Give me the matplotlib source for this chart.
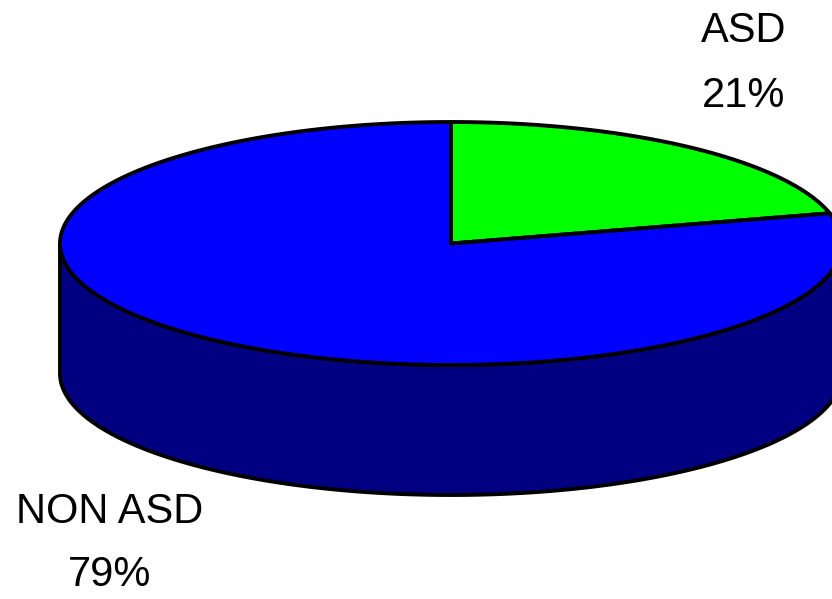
import numpy as np
import matplotlib
matplotlib.use("Agg")
import matplotlib.pyplot as plt
from matplotlib import font_manager
from matplotlib.patches import Polygon

# data
labels = ["ASD", "NON ASD"]
shares = [21, 79]
colors_top = ["#00FF00", "#0000FF"]
colors_side = ["#008000", "#000080"]

# pick a narrow sans if one is installed
try:
    font_manager.findfont("Liberation Sans Narrow", fallback_to_default=False)
    family, fsize = "Liberation Sans Narrow", 35
except ValueError:
    family, fsize = "Liberation Sans", 30

W, H = 832, 599
fig = plt.figure(figsize=(W / 100, H / 100), dpi=100)
ax = fig.add_axes([0, 0, 1, 1])
ax.set_xlim(0, W)
ax.set_ylim(H, 0)
ax.axis("off")

# pie geometry in pixel units
cx, cy = 451, 243.5
rx, ry = 391, 121.5
depth = 130
lw = 2.8


def ell(t0, t1, dy=0.0, n=200):
    t = np.radians(np.linspace(t0, t1, n))
    return np.column_stack([cx + rx * np.cos(t), cy - ry * np.sin(t) + dy])


# wedge angles: start at 12 o'clock, go clockwise
fracs = np.array(shares, dtype=float) / sum(shares)
edges = 90 - 360 * np.concatenate([[0], np.cumsum(fracs)])
wedges = [(edges[i + 1], edges[i]) for i in range(len(shares))]

# side wall (front half only, angles 180..360)
for (a0, a1), col in zip(wedges, colors_side):
    lo, hi = a0 % 360, a1 % 360
    if hi <= lo:
        hi += 360
    segs = []
    for k in (0, 360):
        s0, s1 = max(lo, 180 + k), min(hi, 360 + k)
        if s1 > s0:
            segs.append((s0, s1))
    for s0, s1 in segs:
        top = ell(s0, s1)
        bot = ell(s1, s0, dy=depth)
        ax.add_patch(Polygon(np.vstack([top, bot]), closed=True,
                             facecolor=col, edgecolor="black", lw=lw,
                             joinstyle="round"))

# top face
for (a0, a1), col in zip(wedges, colors_top):
    pts = np.vstack([[cx, cy], ell(a0, a1)])
    ax.add_patch(Polygon(pts, closed=True, facecolor=col,
                         edgecolor="black", lw=lw, joinstyle="round"))

# labels
label_pos = [(744, 31, 96), (110, 512, 575)]
for lab, val, (x, y1, y2) in zip(labels, shares, label_pos):
    ax.text(x, y1, lab, ha="center", va="center", fontsize=fsize,
            family=family, color="black")
    ax.text(x, y2, f"{val}%", ha="center", va="center", fontsize=fsize,
            family=family, color="black")

fig.savefig("out.png", dpi=100)
